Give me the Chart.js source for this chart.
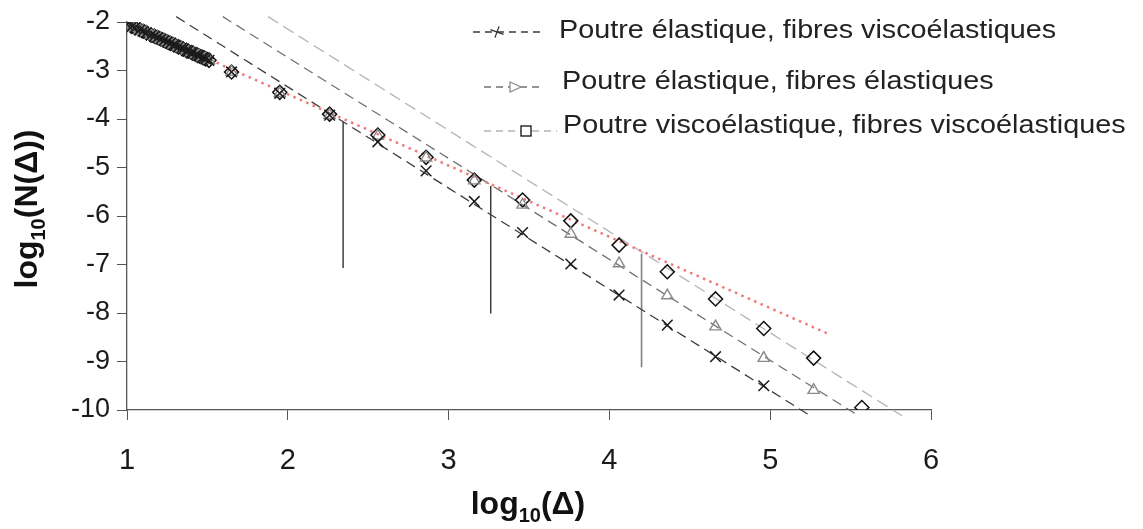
<!DOCTYPE html>
<html lang="fr">
<head>
  <meta charset="UTF-8" />
  <title>log10(N(Δ)) en fonction de log10(Δ)</title>
  <script src="https://cdn.jsdelivr.net/npm/chart.js"></script>
  <style>
    html, body {
      margin: 0;
      padding: 0;
      background: #fff;
    }
    #graphe {
      display: block;
    }
  </style>
</head>
<body>
  <canvas id="graphe" width="1143" height="529"></canvas>

  <script>
    // amas de points aux petits Δ (les trois courbes se superposent)
    const amasX = [1.00, 1.03, 1.05, 1.08, 1.10, 1.12, 1.15, 1.17, 1.19, 1.21, 1.23, 1.25, 1.27, 1.29,
                   1.30, 1.32, 1.34, 1.35, 1.37, 1.38, 1.40, 1.41, 1.43, 1.44, 1.45, 1.47, 1.48, 1.49, 1.51];
    const amasY = [-2.05, -2.09, -2.12, -2.16, -2.19, -2.22, -2.27, -2.29, -2.32, -2.35, -2.38, -2.41, -2.44, -2.47,
                   -2.48, -2.51, -2.54, -2.56, -2.59, -2.60, -2.63, -2.64, -2.67, -2.69, -2.70, -2.73, -2.74, -2.76, -2.79];

    // log10(Δ) des points espacés
    const deltaX = [1.65, 1.95, 2.26, 2.56, 2.86, 3.16, 3.46, 3.76, 4.06, 4.36, 4.66, 4.96, 5.27, 5.57];

    // log10(N(Δ)) pour chaque cas
    const yElastViscoFibres = [-3.03, -3.47, -3.92, -4.47, -5.07, -5.70, -6.34, -6.99, -7.63, -8.25, -8.90, -9.50];
    const yElastElastFibres = [-3.03, -3.47, -3.92, -4.35, -4.80, -5.27, -5.77, -6.37, -6.98, -7.64, -8.28, -8.93, -9.59];
    const yViscoViscoFibres = [-3.03, -3.45, -3.90, -4.33, -4.79, -5.26, -5.67, -6.10, -6.60, -7.15, -7.71, -8.32, -8.93, -9.95];

    // droites de tendance (extrémités)
    const tendance1 = [[1.306, -1.89], [5.25, -10.12]];
    const tendance2 = [[1.596, -1.89], [5.55, -10.12]];
    const tendance3 = [[1.877, -1.89], [5.82, -10.12]];
    const droiteRouge = [[1.0, -2.02], [5.375, -8.45]];

    // segments verticaux
    const verticales = [
      [[2.344, -4.055], [2.344, -7.07]],
      [[3.262, -5.38], [3.262, -8.01]],
      [[4.20, -6.78], [4.20, -9.12]]
    ];

    const libelles = [
      "Poutre élastique, fibres viscoélastiques",
      "Poutre élastique, fibres élastiques",
      "Poutre viscoélastique, fibres viscoélastiques"
    ];
    const ticksX = [1, 2, 3, 4, 5, 6];
    const ticksY = [-2, -3, -4, -5, -6, -7, -8, -9, -10];

    const POLICE = '"Liberation Sans", Arial, Helvetica, sans-serif';

    function points(ys) {
      const pts = amasX.map((x, i) => ({ x: x, y: amasY[i] }));
      ys.forEach((y, i) => pts.push({ x: deltaX[i], y: y }));
      return pts;
    }

    function segment(p) {
      return p.map(c => ({ x: c[0], y: c[1] }));
    }

    function ligne(p, couleur, dash, largeur) {
      return {
        data: segment(p),
        showLine: true,
        borderColor: couleur,
        borderWidth: largeur || 1.3,
        borderDash: dash,
        pointRadius: 0,
        clip: false
      };
    }

    // petits dessins de la légende
    function trait(ctx, x1, x2, y, couleur, dash) {
      ctx.save();
      ctx.strokeStyle = couleur;
      ctx.lineWidth = 1.3;
      ctx.setLineDash(dash);
      ctx.beginPath();
      ctx.moveTo(x1, y);
      ctx.lineTo(x2, y);
      ctx.stroke();
      ctx.restore();
    }

    function texteEtire(ctx, txt, x, y) {
      ctx.save();
      ctx.translate(x, y);
      ctx.scale(1.15, 1);
      ctx.font = "25px " + POLICE;
      ctx.fillStyle = "#222";
      ctx.textBaseline = "alphabetic";
      ctx.fillText(txt, 0, 0);
      ctx.restore();
    }

    const habillage = {
      id: "habillage",
      afterDraw(chart) {
        const ctx = chart.ctx;

        // légende
        trait(ctx, 473, 540, 32, "#3c3c3c", [7, 5]);
        ctx.save();
        ctx.strokeStyle = "#333";
        ctx.lineWidth = 1.3;
        ctx.translate(497, 32);
        ctx.rotate(0.35);
        ctx.beginPath();
        ctx.moveTo(-7, 0); ctx.lineTo(7, 0);
        ctx.moveTo(0, -6); ctx.lineTo(0, 6);
        ctx.stroke();
        ctx.restore();
        texteEtire(ctx, libelles[0], 559, 38);

        trait(ctx, 484, 540, 87, "#707070", [7, 5]);
        ctx.save();
        ctx.strokeStyle = "#8a8a8a";
        ctx.fillStyle = "#fff";
        ctx.lineWidth = 1.2;
        ctx.beginPath();
        ctx.moveTo(510, 82); ctx.lineTo(521, 87); ctx.lineTo(510, 92);
        ctx.closePath();
        ctx.fill();
        ctx.stroke();
        ctx.restore();
        texteEtire(ctx, libelles[1], 562, 88.5);

        trait(ctx, 484, 557, 131, "#b4b4b4", [7, 5]);
        ctx.save();
        ctx.strokeStyle = "#111";
        ctx.fillStyle = "#fff";
        ctx.lineWidth = 1.3;
        ctx.fillRect(521, 126, 10, 10);
        ctx.strokeRect(521, 126, 10, 10);
        ctx.restore();
        texteEtire(ctx, libelles[2], 563, 133);

        // titre de l'axe des abscisses : log10(Δ)
        ctx.save();
        ctx.fillStyle = "#111";
        ctx.textBaseline = "alphabetic";
        const grand = "bold 32px " + POLICE;
        const petit = "bold 20px " + POLICE;
        ctx.font = grand;
        const w1 = ctx.measureText("log").width;
        const w3 = ctx.measureText("(Δ)").width;
        ctx.font = petit;
        const w2 = ctx.measureText("10").width;
        let x = 528 - (w1 + w2 + w3) / 2;
        ctx.font = grand;
        ctx.fillText("log", x, 514);
        ctx.font = petit;
        ctx.fillText("10", x + w1, 522);
        ctx.font = grand;
        ctx.fillText("(Δ)", x + w1 + w2, 514);
        ctx.restore();

        // titre de l'axe des ordonnées : log10(N(Δ))
        ctx.save();
        ctx.fillStyle = "#111";
        ctx.textBaseline = "alphabetic";
        ctx.translate(37, 209);
        ctx.rotate(-Math.PI / 2);
        ctx.font = grand;
        const v1 = ctx.measureText("log").width;
        const v3 = ctx.measureText("(N(Δ))").width;
        ctx.font = petit;
        const v2 = ctx.measureText("10").width;
        x = -(v1 + v2 + v3) / 2;
        ctx.font = grand;
        ctx.fillText("log", x, 0);
        ctx.font = petit;
        ctx.fillText("10", x + v1, 8);
        ctx.font = grand;
        ctx.fillText("(N(Δ))", x + v1 + v2, 0);
        ctx.restore();
      }
    };

    const datasets = [
      {
        data: points(yElastViscoFibres),
        showLine: false,
        pointStyle: "crossRot",
        pointRadius: 7.5,
        pointBorderColor: "#1a1a1a",
        pointBorderWidth: 1.5
      },
      {
        data: points(yElastElastFibres),
        showLine: false,
        pointStyle: "triangle",
        pointRadius: 6.5,
        pointBorderColor: "#8a8a8a",
        pointBackgroundColor: "rgba(0,0,0,0)",
        pointBorderWidth: 1.4
      },
      {
        data: points(yViscoViscoFibres),
        showLine: false,
        pointStyle: "rectRot",
        pointRadius: 7,
        pointBorderColor: "#111",
        pointBackgroundColor: "rgba(0,0,0,0)",
        pointBorderWidth: 1.5
      },
      ligne(droiteRouge, "#f27878", [2.5, 4.5], 2.5),
      ligne(tendance1, "#3c3c3c", [10, 6]),
      ligne(tendance2, "#707070", [10, 6]),
      ligne(tendance3, "#b4b4b4", [12, 6]),
      ligne(verticales[0], "#333", [], 1.4),
      ligne(verticales[1], "#333", [], 1.4),
      ligne(verticales[2], "#808080", [], 1.6)
    ];

    new Chart(document.getElementById("graphe"), {
      type: "scatter",
      data: { datasets: datasets },
      options: {
        responsive: false,
        animation: false,
        devicePixelRatio: 1,
        layout: { padding: { top: 22, right: 212, left: 0, bottom: 0 } },
        plugins: {
          legend: { display: false },
          tooltip: { enabled: false }
        },
        scales: {
          x: {
            type: "linear",
            min: 1,
            max: 6,
            afterBuildTicks: (s) => { s.ticks = ticksX.map(v => ({ value: v })); },
            afterFit: (s) => { s.height = 119; s.paddingLeft = 0; s.paddingRight = 0; },
            grid: { drawOnChartArea: false, drawTicks: true, tickLength: 10, color: "#555" },
            border: { display: true, color: "#555", width: 1.3 },
            ticks: {
              color: "#1a1a1a",
              font: { family: POLICE, size: 29 },
              padding: 24,
              maxRotation: 0,
              autoSkip: false
            }
          },
          y: {
            type: "linear",
            min: -10,
            max: -2,
            afterBuildTicks: (s) => { s.ticks = ticksY.map(v => ({ value: v })); },
            afterFit: (s) => { s.width = 127; s.paddingTop = 0; s.paddingBottom = 0; },
            grid: { drawOnChartArea: false, drawTicks: true, tickLength: 10, color: "#555" },
            border: { display: true, color: "#555", width: 1.3 },
            ticks: {
              color: "#1a1a1a",
              font: { family: POLICE, size: 27 },
              padding: 7,
              autoSkip: false
            }
          }
        }
      },
      plugins: [habillage]
    });
  </script>
</body>
</html>
